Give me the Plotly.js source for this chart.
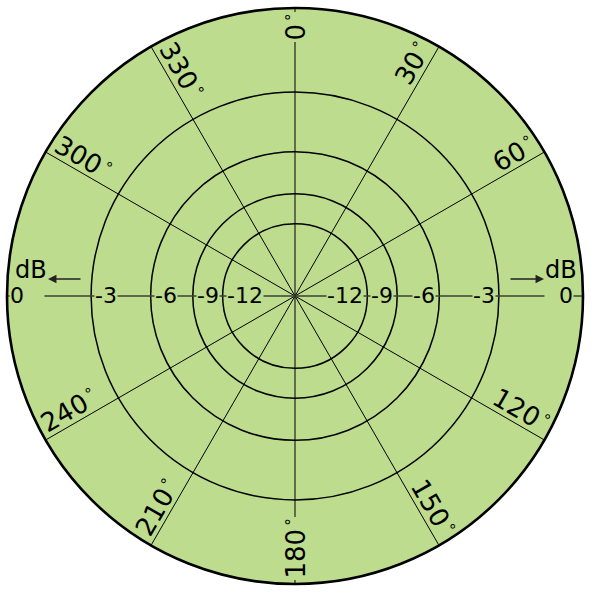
<!DOCTYPE html>
<html>
<head>
<meta charset="utf-8">
<script src="https://cdn.plot.ly/plotly-3.0.1.min.js"></script>
<style>html,body{margin:0;padding:0;background:#fff;}</style>
</head>
<body>
<div id="chart" style="width:600px;height:593px;"></div>
<script>
// ---- data ----
const spokeAngles = [0, 30, 60, 120, 150, 180, 210, 240, 300, 330];
const angleLabels = ['0', '30', '60', '120', '150', '180', '210', '240', '300', '330'];
const ringDb = [-3, -6, -9, -12];
const ringLabels = ['-3', '-6', '-9', '-12'];
const outerDb = 0;
const outerLabel = '0';
const unitLabel = 'dB';
const axisAngles = [90, 270];

// ---- style ----
const GREEN = '#BDDC8E';
const FONT = 'DejaVu Sans, Verdana, sans-serif';
const ampOf = db => Math.pow(10, db / 20);

const traces = [{
  type: 'scatterpolar',
  mode: 'lines',
  r: axisAngles.map(() => ampOf(outerDb)),
  theta: axisAngles,
  line: {color: '#3a4530', width: 1.6},
  hoverinfo: 'skip'
}];

const annotations = [];
const DEG = '<span style="font-size:15px;baseline-shift:8px">\u2009°</span>';

// angle labels, rotated along spokes
spokeAngles.forEach((th, i) => {
  const t = angleLabels[i];
  const onLine = (th % 180 === 0);
  const phi = (th % 180) - 90;
  const w = t.length * 16 + 9;
  const along = 281 - w / 2;
  const perp = onLine ? 0 : 14;
  const rad = th * Math.PI / 180, prad = phi * Math.PI / 180;
  annotations.push({
    xref: 'paper', yref: 'paper', x: 0.5, y: 0.5,
    xanchor: 'center', yanchor: 'middle',
    xshift: along * Math.sin(rad) + perp * Math.sin(prad),
    yshift: along * Math.cos(rad) + perp * Math.cos(prad),
    text: t + DEG,
    textangle: phi,
    showarrow: false,
    font: {family: FONT, size: 26, color: '#000'},
    bgcolor: onLine ? GREEN : 'rgba(0,0,0,0)',
    borderpad: onLine ? 1 : 0
  });
});

// ring dB labels on horizontal axis
ringDb.forEach((db, i) => {
  const a = ampOf(db);
  [-1, 1].forEach(side => {
    annotations.push({
      xref: 'paper', yref: 'paper',
      x: 0.5 + side * 0.5 * a, y: 0.5,
      xanchor: side < 0 ? 'left' : 'right', yanchor: 'middle',
      xshift: side < 0 ? 3 : -3, yshift: 1,
      text: ringLabels[i], showarrow: false,
      font: {family: FONT, size: 22, color: '#000'},
      bgcolor: GREEN, borderpad: 0
    });
  });
});

// outer 0 labels, dB units and arrows
[-1, 1].forEach(side => {
  annotations.push({
    xref: 'paper', yref: 'paper',
    x: 0.5 + side * 0.5 * ampOf(outerDb), y: 0.5,
    xanchor: side < 0 ? 'left' : 'right', yanchor: 'middle',
    xshift: side < 0 ? 2 : -9, yshift: 1,
    width: side < 0 ? 34 : 28, align: side < 0 ? 'left' : 'right',
    text: outerLabel, showarrow: false,
    font: {family: FONT, size: 22, color: '#000'},
    bgcolor: GREEN, borderpad: 0
  });
  annotations.push({
    xref: 'paper', yref: 'paper',
    x: 0.5 + side * 0.5, y: 0.5,
    xanchor: side < 0 ? 'left' : 'right', yanchor: 'middle',
    xshift: side < 0 ? 6 : -4, yshift: 26,
    text: unitLabel, showarrow: false,
    font: {family: FONT, size: 24, color: '#000'}
  });
  annotations.push({
    xref: 'paper', yref: 'paper',
    x: 0.5 + side * 0.5, y: 0.5,
    xshift: side < 0 ? 41 : -39, yshift: 17,
    ax: side < 0 ? 34 : -35, ay: 0,
    axref: 'pixel', ayref: 'pixel',
    text: '', showarrow: true,
    arrowhead: 2, arrowsize: 1.3, arrowwidth: 1.3, arrowcolor: '#222'
  });
});

const layout = {
  width: 600, height: 593,
  margin: {l: 7, r: 17, t: 8, b: 9, pad: 0},
  paper_bgcolor: '#ffffff',
  showlegend: false,
  polar: {
    bgcolor: GREEN,
    domain: {x: [0, 1], y: [0, 1]},
    radialaxis: {
      range: [0, 1],
      tickvals: ringDb.map(ampOf),
      showticklabels: false, ticks: '',
      showline: false,
      showgrid: true, gridcolor: '#000', gridwidth: 1.5
    },
    angularaxis: {
      direction: 'clockwise', rotation: 90,
      tickvals: spokeAngles,
      showticklabels: false, ticks: '',
      showgrid: true, gridcolor: '#000', gridwidth: 1,
      showline: true, linecolor: '#000', linewidth: 2.6
    }
  },
  annotations: annotations
};

Plotly.newPlot('chart', traces, layout, {displayModeBar: false, staticPlot: true});
</script>
</body>
</html>
